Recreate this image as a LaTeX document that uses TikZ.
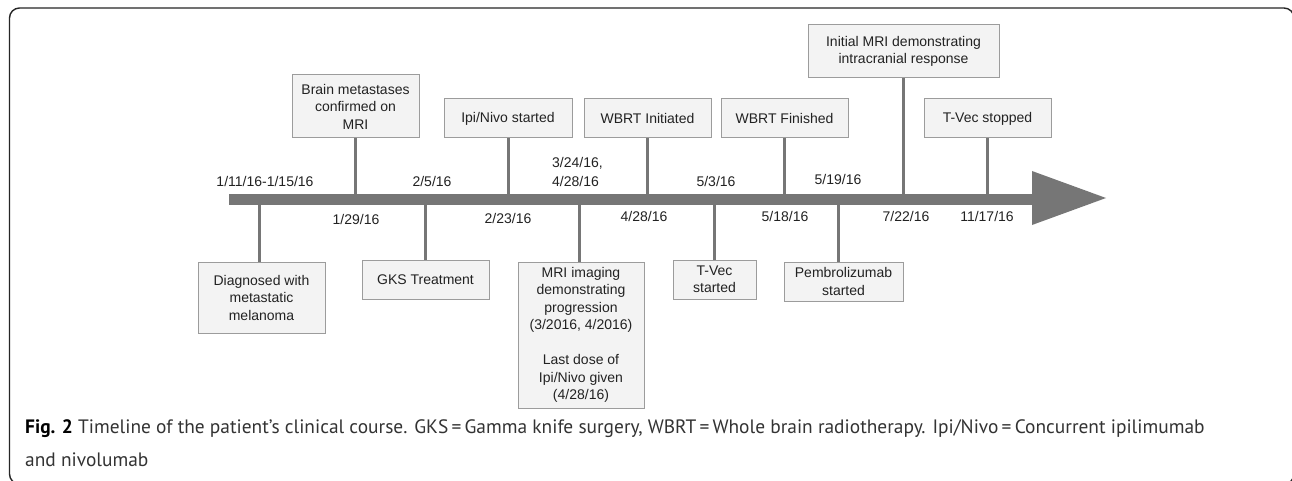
\documentclass[tikz,border=0pt]{standalone}
\usepackage{fontspec}
\setmainfont{Liberation Sans}
\newfontfamily\capfont{PT Sans}
\definecolor{bargray}{HTML}{767676}
\definecolor{boxfill}{HTML}{F3F3F3}
\definecolor{boxline}{HTML}{9C9C9C}
\definecolor{txt}{HTML}{222222}
\definecolor{captxt}{HTML}{333333}
\begin{document}
\begin{tikzpicture}[x=1pt,y=-1pt,
  evbox/.style={draw=boxline, fill=boxfill, line width=1pt, align=center,
    font=\fontsize{14}{17.5}\selectfont, text=txt, inner sep=0pt},
  datelbl/.style={font=\fontsize{14}{19}\selectfont, text=txt, inner sep=0pt,
    text height=10pt, text depth=0pt},
  conn/.style={draw=bargray, line width=3pt},
  captext/.style={anchor=base west, inner sep=0pt, text=captxt,
    font=\capfont\fontsize{19.4}{24}\selectfont}]
\useasboundingbox (0,0) rectangle (1292,481);
\fill[white] (0,0) rectangle (1292,481);
\draw[line width=1.4pt, rounded corners=10pt, black!85] (9.5,8) rectangle (1294,484);

% top boxes
\node[evbox, minimum width=127pt, minimum height=63pt] (brain) at (355.5,106.5) {Brain metastases\\confirmed on\\MRI};
\node[evbox, minimum width=128pt, minimum height=39pt] (ipi) at (508,118.5) {Ipi/Nivo started};
\node[evbox, minimum width=127pt, minimum height=39pt] (wbrti) at (647.5,118.5) {WBRT Initiated};
\node[evbox, minimum width=127pt, minimum height=39pt] (wbrtf) at (784.5,118.5) {WBRT Finished};
\node[evbox, minimum width=191pt, minimum height=53pt] (imri) at (903.5,51.5) {Initial MRI demonstrating\\intracranial response};
\node[evbox, minimum width=127pt, minimum height=39pt] (tvecs) at (987.5,118.5) {T-Vec stopped};

% bottom boxes
\node[evbox, minimum width=127pt, minimum height=71pt] (diag) at (261.5,297.5) {Diagnosed with\\metastatic\\melanoma};
\node[evbox, minimum width=127pt, minimum height=39pt] (gks) at (425.5,279.5) {GKS Treatment};
\node[evbox, minimum width=126pt, minimum height=146pt] (mrip) at (581,335) {MRI imaging\\demonstrating\\progression\\(3/2016, 4/2016)\\[17.5pt]Last dose of\\Ipi/Nivo given\\(4/28/16)};
\node[evbox, minimum width=83pt, minimum height=39pt] (tvec) at (714.5,279.5) {T-Vec\\started};
\node[evbox, minimum width=119pt, minimum height=39pt] (pembro) at (843.5,281.5) {Pembrolizumab\\started};

% timeline
\coordinate (barL) at (229,199.5);
\coordinate (barR) at (1033,199.5);
\coordinate (headT) at (1032,171);
\coordinate (headB) at (1032,225);
\coordinate (tip) at (1106,198);

% connectors
\draw[conn] (brain.south) -- (brain.south |- barL);
\draw[conn] (ipi.south) -- (ipi.south |- barL);
\draw[conn] (wbrti.south) -- (wbrti.south |- barL);
\draw[conn] (wbrtf.south) -- (wbrtf.south |- barL);
\draw[conn] (imri.south) -- (imri.south |- barL);
\draw[conn] (tvecs.south) -- (tvecs.south |- barL);
\draw[conn] ([xshift=-2.5pt]diag.north) -- ([xshift=-2.5pt]diag.north |- barL);
\draw[conn] (gks.north) -- (gks.north |- barL);
\draw[conn] ([xshift=-2pt]mrip.north) -- ([xshift=-2pt]mrip.north |- barL);
\draw[conn] (tvec.north) -- (tvec.north |- barL);
\draw[conn] ([xshift=-5.5pt]pembro.north) -- ([xshift=-5.5pt]pembro.north |- barL);

\draw[bargray, line width=11pt] (barL) -- (barR);
\fill[bargray] (headT) -- (tip) -- (headB) -- cycle;

% dates
\node[datelbl] (d1) at (265,181) {1/11/16-1/15/16};
\node[datelbl] (d2) at (356,219) {1/29/16};
\node[datelbl] (d3) at (432,181) {2/5/16};
\node[datelbl] (d4) at (508,218) {2/23/16};
\node[font=\fontsize{14}{19}\selectfont, text=txt, inner sep=0pt, align=left, anchor=north west] (d5) at (552,157.5) {3/24/16,\\4/28/16};
\node[datelbl] (d6) at (644,216) {4/28/16};
\node[datelbl] (d7) at (716,181) {5/3/16};
\node[datelbl] (d8) at (785,216) {5/18/16};
\node[datelbl] (d9) at (838,180) {5/19/16};
\node[datelbl] (d10) at (906,216) {7/22/16};
\node[datelbl] (d11) at (987,216) {11/17/16};

% caption
\node[captext] (cap1) at (25,433) {{\color{black}\bfseries Fig. 2} Timeline of the patient’s clinical course. GKS\,=\,Gamma knife surgery, WBRT\,=\,Whole brain radiotherapy. Ipi/Nivo\,=\,Concurrent ipilimumab};
\node[captext] (cap2) at (25,466) {and nivolumab};
\end{tikzpicture}
\end{document}
